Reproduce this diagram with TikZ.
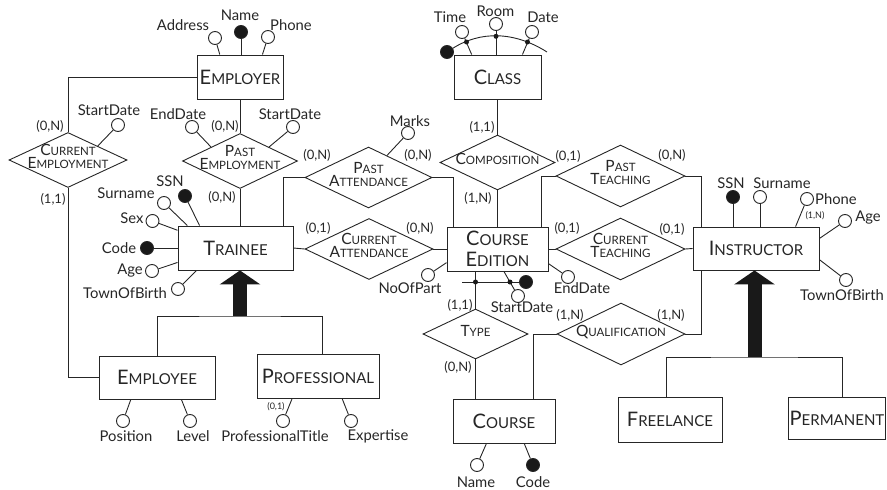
\documentclass[tikz,border=0pt]{standalone}
\usepackage{fontspec}
\setmainfont{Lato}
\usetikzlibrary{positioning,shapes.geometric,arrows.meta}

% small caps by hand: big first letter, smaller capitals after it
\newcommand{\ent}[2]{{\fontsize{20}{21}\selectfont #1}{\fontsize{15}{21}\selectfont #2}}
\newcommand{\rel}[2]{\smash{\fontsize{15.5}{13}\selectfont #1}{\fontsize{11.5}{13}\selectfont #2}}
\newcommand{\reltext}[1]{\smash{\makebox[0pt]{\raisebox{-.25em}{\begin{tabular}{@{}c@{}}#1\end{tabular}}}}}

\begin{document}
\begin{tikzpicture}[
    x=1pt, y=-1pt,
    line width=0.9pt, color=black!85,
    entity/.style={rectangle, draw, fill=white, inner sep=0pt, minimum height=44pt, align=center, font=\fontsize{20}{21}\selectfont},
    relation/.style={diamond, draw, fill=white, inner sep=0pt, font=\fontsize{11.5}{13}\selectfont},
    attr/.style={circle, draw, fill=white, inner sep=0pt, minimum size=13pt},
    keyattr/.style={attr, fill=black!90},
    joint/.style={circle, fill=black!90, inner sep=0pt, minimum size=5pt},
    txt/.style={inner sep=0pt, font=\fontsize{14.8}{15}\selectfont},
    card/.style={inner sep=0pt, font=\fontsize{13}{13}\selectfont},
    smallcard/.style={inner sep=0pt, font=\fontsize{9}{9}\selectfont},
    isa/.style={line width=14pt, black!90, -{Triangle[width=40pt, length=14pt]}}
]
\useasboundingbox (0,0) rectangle (887,490);

% Entities
\node[entity, minimum width=86pt] (employer) at (240,77) {\ent{E}{MPLOYER}};
\node[entity, minimum width=87pt] (class) at (497.5,77) {\ent{C}{LASS}};
\node[entity, minimum width=115pt] (trainee) at (235.5,248) {\ent{T}{RAINEE}};
\node[entity, minimum width=101pt] (edition) at (497.5,249) {\ent{C}{OURSE}\\\ent{E}{DITION}};
\node[entity, minimum width=126pt, minimum height=43pt] (instructor) at (756,248.5) {\ent{I}{NSTRUCTOR}};
\node[entity, minimum width=116pt, minimum height=43pt] (employee) at (157,377.5) {\ent{E}{MPLOYEE}};
\node[entity, minimum width=122pt] (professional) at (318,376) {\ent{P}{ROFESSIONAL}};
\node[entity, minimum width=102pt] (course) at (504,421) {\ent{C}{OURSE}};
\node[entity, minimum width=104pt, minimum height=45pt] (freelance) at (670,419.5) {\ent{F}{REELANCE}};
\node[entity, minimum width=97pt, minimum height=42pt] (permanent) at (837,418) {\ent{P}{ERMANENT}};

% Relationships
\node[relation, minimum width=118pt, minimum height=55pt] (currEmp) at (68,160) {\reltext{\rel{C}{URRENT}\\\rel{E}{MPLOYMENT}}};
\node[relation, minimum width=115pt, minimum height=55pt] (pastEmp) at (240,161) {\reltext{\rel{P}{AST}\\\rel{E}{MPLOYMENT}}};
\node[relation, minimum width=127pt, minimum height=61pt] (pastAtt) at (368.5,177.5) {\reltext{\rel{P}{AST}\\\rel{A}{TTENDANCE}}};
\node[relation, minimum width=128pt, minimum height=61pt] (currAtt) at (369,249) {\reltext{\rel{C}{URRENT}\\\rel{A}{TTENDANCE}}};
\node[relation, minimum width=115pt, minimum height=55pt] (composition) at (497.5,162.5) {\reltext{\rel{C}{OMPOSITION}}};
\node[relation, minimum width=129pt, minimum height=62pt] (pastTeach) at (620.5,176) {\reltext{\rel{P}{AST}\\\rel{T}{EACHING}}};
\node[relation, minimum width=129pt, minimum height=62pt] (currTeach) at (620.5,249) {\reltext{\rel{C}{URRENT}\\\rel{T}{EACHING}}};
\node[relation, minimum width=105pt, minimum height=50pt] (type) at (475.5,334) {\reltext{\rel{T}{YPE}}};
\node[relation, minimum width=128pt, minimum height=62pt] (qual) at (621,334) {\reltext{\rel{Q}{UALIFICATION}}};

% Relationship links
\draw (employer.west) -| (currEmp.north);
\draw (employer.south) -- (pastEmp.north);
\draw (currEmp.south) |- (employee.west);
\draw (pastEmp.south) -- (pastEmp.south |- trainee.north);
\draw (trainee.25) |- (pastAtt.west);
\draw (pastAtt.east) -| (edition.153);
\draw (trainee.east) -- (currAtt.west);
\draw (currAtt.east) -- (edition.west);
\draw (class.south) -- (composition.north);
\draw (composition.south) -- (edition.north);
\draw (edition.27) |- (pastTeach.west);
\draw (pastTeach.east) -| (instructor.158);
\draw (edition.east) -- (currTeach.west);
\draw (currTeach.east) -- (instructor.west);
\draw (edition.south -| type.north) -- (type.north);
\draw (type.south) -- (type.south |- course.north);
\draw (course.37) |- (qual.west);
\draw (qual.east) -| (instructor.202);

% Generalizations
\coordinate (isaT) at (240,316);
\draw (employee.north) |- (isaT) -| (professional.80);
\draw[isa] (isaT) -- (isaT |- trainee.south);
\coordinate (isaI) at (754.5,357);
\draw (freelance.98) |- (isaI) -| (permanent.77);
\draw[isa] (isaI) -- (isaI |- instructor.south);

% Employer attributes
\node[attr] (aAddress) at (215,38) {};
\node[keyattr] (kName) at (241,32) {};
\node[attr] (aPhoneE) at (268,37) {};
\draw (employer.132) -- (aAddress);
\draw (kName) -- (kName |- employer.north);
\draw (employer.45) -- (aPhoneE);
\node[txt] (tAddress) at (183,25) {Address};
\node[txt] (tName) at (240,15) {Name};
\node[txt] (tPhoneE) at (291,25) {Phone};

% Class attributes and identifier
\node[keyattr] (kClass) at (447,52) {};
\node[attr] (aTime) at (462,32) {};
\node[attr] (aRoom) at (496,24) {};
\node[attr] (aDate) at (532,32) {};
\draw (class.139) -- (aTime);
\draw (aRoom) -- (aRoom |- class.north);
\draw (class.42) -- (aDate);
\coordinate (idClass) at (547,52);
\draw (kClass) .. controls (480,31) and (514,31) .. (idClass);
\node[joint] (jTime) at (466.5,42) {};
\node[joint] (jRoom) at (496,36.3) {};
\node[joint] (jDate) at (527.5,42) {};
\node[txt] (tTime) at (450,17) {Time};
\node[txt] (tRoom) at (495.5,11) {Room};
\node[txt] (tDate) at (543,17) {Date};

% Relationship attributes
\node[attr] (aStartCE) at (118,125) {};
\draw (currEmp.north east) -- (aStartCE);
\node[txt] (tStartCE) at (109,110) {StartDate};
\node[attr] (aEndPE) at (192,127) {};
\draw (pastEmp.north west) -- (aEndPE);
\node[txt] (tEndPE) at (178,114) {EndDate};
\node[attr] (aStartPE) at (293,127) {};
\draw (pastEmp.north east) -- (aStartPE);
\node[txt] (tStartPE) at (290,114) {StartDate};
\node[attr] (aMarks) at (408,133) {};
\draw (pastAtt.50) -- (aMarks);
\node[txt] (tMarks) at (410,121) {Marks};

% Trainee attributes
\node[keyattr] (kSSN) at (185,196) {};
\node[attr] (aSurname) at (164,203) {};
\node[attr] (aSex) at (152.5,221) {};
\node[keyattr] (kCode) at (147,248) {};
\node[attr] (aAge) at (152,271) {};
\node[attr] (aTown) at (178,289) {};
\draw (trainee.148) -- (kSSN);
\draw (trainee.155) -- (aSurname);
\draw (trainee.163.5) -- (aSex);
\draw (trainee.west) -- (kCode);
\draw (trainee.194) -- (aAge);
\draw (trainee.210) -- (aTown);
\node[txt] (tSSN) at (170,181) {SSN};
\node[txt] (tSurname) at (126,193) {Surname};
\node[txt] (tSex) at (132,218) {Sex};
\node[txt] (tCode) at (119,248) {Code};
\node[txt] (tAge) at (130,271) {Age};
\node[txt] (tTown) at (125,293) {TownOfBirth};

% Course edition attributes and identifier
\node[attr] (aNoOfPart) at (428,275) {};
\draw (edition.195.5) -- (aNoOfPart);
\node[txt] (tNoOfPart) at (410,288) {NoOfPart};
\node[attr] (aEndDate) at (568,277) {};
\draw (edition.344.5) -- (aEndDate);
\node[txt] (tEndDate) at (582,288) {EndDate};
\node[attr] (aStartDate) at (518,296) {};
\draw (edition.286.5) -- (aStartDate);
\node[txt] (tStartDate) at (522,307) {StartDate};
\coordinate (idEdition) at (462,282);
\node[keyattr] (kEdition) at (526,282) {};
\draw (idEdition) -- (kEdition);
\node[joint] (jType) at (475.5,282) {};
\node[joint] (jStart) at (510,282) {};

% Instructor attributes
\node[keyattr] (kSSNI) at (733,197) {};
\node[attr] (aSurnameI) at (760,197) {};
\node[attr] (aPhoneI) at (807,199) {};
\node[attr] (aAgeI) at (845,221) {};
\node[attr] (aTownI) at (846,280) {};
\draw (kSSNI) -- (kSSNI |- instructor.north);
\draw (aSurnameI) -- (aSurnameI |- instructor.north);
\draw (instructor.29) -- (aPhoneI);
\draw (instructor.9.5) -- (aAgeI);
\draw (instructor.350) -- (aTownI);
\node[txt] (tSSNI) at (731,183) {SSN};
\node[txt] (tSurnameI) at (782,183) {Surname};
\node[txt] (tPhoneI) at (836,199) {Phone};
\node[txt] (tAgeI) at (868,218) {Age};
\node[txt] (tTownI) at (842,295) {TownOfBirth};
\node[smallcard] (cPhone) at (815,216) {(1,N)};

% Course attributes
\node[attr] (aNameC) at (477,465) {};
\node[keyattr] (kCodeC) at (533,465) {};
\draw (course.232) -- (aNameC);
\draw (course.312) -- (kCodeC);
\node[txt] (tNameC) at (476,482) {Name};
\node[txt] (tCodeC) at (533,482) {Code};

% Employee and professional attributes
\node[attr] (aPosition) at (123,421) {};
\node[attr] (aLevel) at (190,421) {};
\draw (employee.220) -- (aPosition);
\draw (employee.318) -- (aLevel);
\node[txt] (tPosition) at (126,436) {Position};
\node[txt] (tLevel) at (193,436) {Level};
\node[attr] (aTitle) at (283,421) {};
\node[attr] (aExpertise) at (351,421) {};
\draw (professional.221.3) -- (aTitle);
\draw (professional.317.5) -- (aExpertise);
\node[txt] (tTitle) at (275,436) {ProfessionalTitle};
\node[txt] (tExpertise) at (378,436) {Expertise};
\node[smallcard] (cTitle) at (276,407) {(0,1)};

% Cardinalities
\node[card] (cEmpCurr1) at (50,126) {(0,N)};
\node[card] (cEmpCurr2) at (53,199) {(1,1)};
\node[card] (cEmpPast1) at (225,126) {(0,N)};
\node[card] (cEmpPast2) at (222,197) {(0,N)};
\node[card] (cAttPast1) at (317,155) {(0,N)};
\node[card] (cAttPast2) at (418,155) {(0,N)};
\node[card] (cAttCurr1) at (318,228) {(0,1)};
\node[card] (cAttCurr2) at (420,228) {(0,N)};
\node[card] (cComp1) at (482,127) {(1,1)};
\node[card] (cComp2) at (478,198) {(1,N)};
\node[card] (cTeachPast1) at (568,156) {(0,1)};
\node[card] (cTeachPast2) at (672,155) {(0,N)};
\node[card] (cTeachCurr1) at (567,228) {(0,1)};
\node[card] (cTeachCurr2) at (672,229) {(0,1)};
\node[card] (cType1) at (460,305) {(1,1)};
\node[card] (cType2) at (458,367) {(0,N)};
\node[card] (cQual1) at (570,315) {(1,N)};
\node[card] (cQual2) at (671,315) {(1,N)};

\end{tikzpicture}
\end{document}
